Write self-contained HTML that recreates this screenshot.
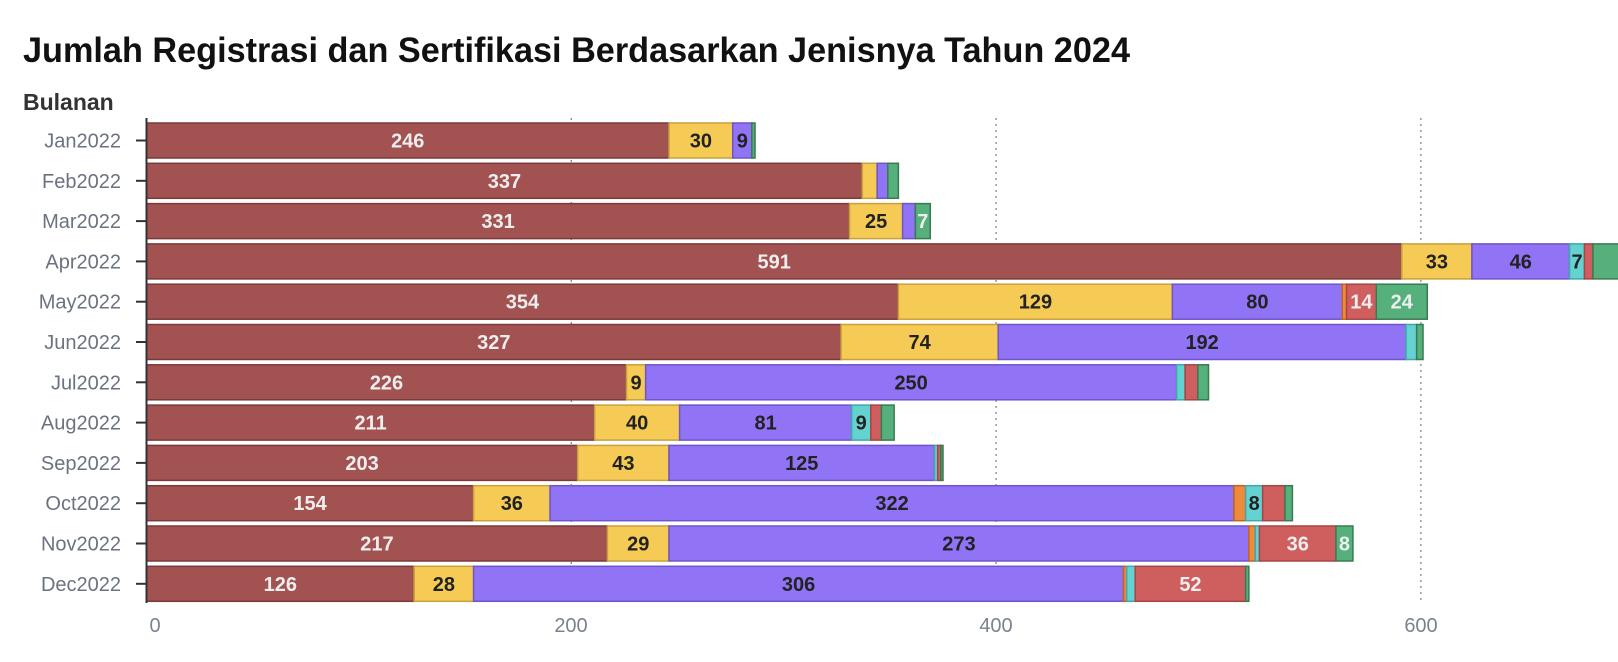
<!DOCTYPE html>
<html><head><meta charset="utf-8"><style>
html,body{margin:0;padding:0;background:#fff;}
svg{display:block;font-family:"Liberation Sans",sans-serif;}
</style></head><body>
<svg id="c" width="1618" height="662" viewBox="0 0 1618 662" xmlns="http://www.w3.org/2000/svg">
<text x="23" y="62" font-size="35" font-weight="bold" fill="#111" textLength="1107" lengthAdjust="spacingAndGlyphs">Jumlah Registrasi dan Sertifikasi Berdasarkan Jenisnya Tahun 2024</text>
<text x="23" y="110" font-size="23" font-weight="bold" fill="#333">Bulanan</text>
<g stroke="#888" stroke-width="1.3" stroke-dasharray="2,4">
<line x1="571.3" y1="118" x2="571.3" y2="603"/>
<line x1="996.1" y1="118" x2="996.1" y2="603"/>
<line x1="1420.9" y1="118" x2="1420.9" y2="603"/>
</g>
<g id="bars"></g>
<line x1="146.5" y1="118" x2="146.5" y2="603" stroke="#333" stroke-width="2"/>
<g font-size="20" fill="#7a8290" text-anchor="middle">
<text x="155" y="632">0</text><text x="571" y="632">200</text><text x="996" y="632">400</text><text x="1421" y="632">600</text>
</g>
</svg>
<script>
var S=2.124,X0=146.5;
var fills=["#a35252","#f5cb56","#9173f5","#ee8a3c","#65d2d2","#cf5f5f","#55b07b"];
var strokes=["#7a3a3a","#c9a03a","#6e55c8","#c0651f","#40a8a8","#a84444","#3a7a52"];
var tcol=["#eee","#222","#222","#222","#222","#eee","#eee"];
var data=[
["Jan2022",[246,30,9,0,0,0,1.5],[1,1,1,0,0,0,0]],
["Feb2022",[337,7,5,0,0,0,5],[1,0,0,0,0,0,0]],
["Mar2022",[331,25,6,0,0,0,7],[1,1,0,0,0,0,1]],
["Apr2022",[591,33,46,0,7,4,14],[1,1,1,0,1,0,0]],
["May2022",[354,129,80,2,0,14,24],[1,1,1,0,0,1,1]],
["Jun2022",[327,74,192,0,5,0,3],[1,1,1,0,0,0,0]],
["Jul2022",[226,9,250,0,4,6,5],[1,1,1,0,0,0,0]],
["Aug2022",[211,40,81,0,9,5,6],[1,1,1,0,1,0,0]],
["Sep2022",[203,43,125,0,1.5,1.5,1],[1,1,1,0,0,0,0]],
["Oct2022",[154,36,322,5.5,8,10.5,3.5],[1,1,1,0,1,0,0]],
["Nov2022",[217,29,273,3,2,36,8],[1,1,1,0,0,1,1]],
["Dec2022",[126,28,306,1.5,4,52,1.5],[1,1,1,0,0,1,0]]
];
var ns="http://www.w3.org/2000/svg",g=document.getElementById("bars"),svg=document.getElementById("c");
function el(n,a,p){var e=document.createElementNS(ns,n);for(var k in a)e.setAttribute(k,a[k]);(p||g).appendChild(e);return e;}
data.forEach(function(r,i){
  var top=123+i*40.3,h=35,x=X0;
  var lb=el("text",{x:121,y:top+h/2+7,"font-size":20,fill:"#6b7280","text-anchor":"end"},svg);lb.textContent=r[0];
  el("line",{x1:136,x2:146,y1:top+h/2,y2:top+h/2,stroke:"#333","stroke-width":2},svg);
  r[1].forEach(function(v,j){
    if(!v)return;var w=v*S;
    el("rect",{x:x,y:top,width:w,height:h,fill:fills[j],stroke:strokes[j],"stroke-width":1.5});
    if(r[2][j]){var t=el("text",{x:x+w/2,y:top+h/2+7,"font-size":20,"font-weight":"bold",fill:tcol[j],"text-anchor":"middle"});t.textContent=v;}
    x+=w;
  });
});
</script>
</body></html>
